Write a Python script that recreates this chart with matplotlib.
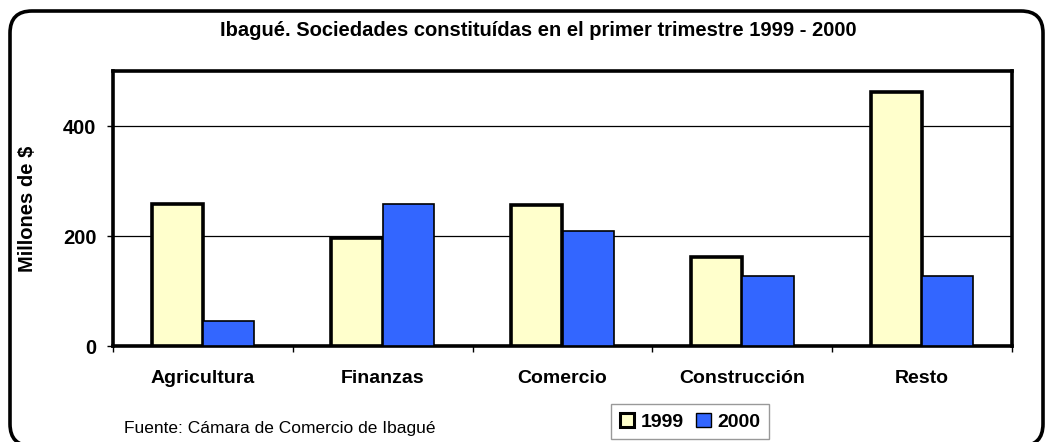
"""Ibagué: sociedades constituidas en el primer trimestre, 1999 vs 2000 (barras agrupadas)."""

import matplotlib

matplotlib.use("Agg")

import matplotlib.pyplot as plt  # noqa: E402
import numpy as np  # noqa: E402
from matplotlib.patches import FancyBboxPatch, Patch  # noqa: E402
from matplotlib.transforms import IdentityTransform  # noqa: E402

plt.rcParams["font.family"] = ["Liberation Sans", "DejaVu Sans"]

CATEGORIES = ["Agricultura", "Finanzas", "Comercio", "Construcción", "Resto"]
VALUES_1999 = [259, 196, 256, 161, 462]
VALUES_2000 = [45, 259, 209, 128, 128]
SERIES_LABELS = ["1999", "2000"]
Y_TICKS = [0, 200, 400]

TITLE = "Ibagué. Sociedades constituídas en el primer trimestre 1999 - 2000"
Y_LABEL = "Millones de $"
SOURCE = "Fuente: Cámara de Comercio de Ibagué"

FILL_1999 = "#FFFFCC"
FILL_2000 = "#3366FF"

W, H = 1045, 442


def main() -> int:
    fig = plt.figure(figsize=(W / 100, H / 100), dpi=100)
    ax = fig.add_axes([113 / W, 1 - 346 / H, (1012 - 113) / W, (346 - 71) / H])

    x = np.arange(len(CATEGORIES))
    bw = 1 / 3.5
    ax.bar(x - bw / 2, VALUES_1999, bw, color=FILL_1999, edgecolor="black",
           linewidth=2.6, zorder=3)
    ax.bar(x + bw / 2, VALUES_2000, bw, color=FILL_2000, edgecolor="black",
           linewidth=1.2, zorder=3)

    ax.set_xlim(-0.5, len(CATEGORIES) - 0.5)
    ax.set_ylim(0, 500)
    ax.set_yticks(Y_TICKS)
    ax.set_yticklabels([str(v) for v in Y_TICKS], fontsize=14.5, fontweight="bold")
    ax.tick_params(axis="y", length=4, width=1, pad=8)
    ax.yaxis.grid(True, color="black", linewidth=0.9, zorder=0)
    ax.set_axisbelow(True)

    ax.set_xticks(x)
    ax.set_xticklabels(CATEGORIES, fontsize=14, fontweight="bold")
    ax.tick_params(axis="x", length=0, pad=17.5)
    ax.set_xticks(np.arange(-0.5, len(CATEGORIES)), minor=True)
    ax.tick_params(axis="x", which="minor", length=4, width=1)

    for sp in ax.spines.values():
        sp.set_linewidth(2.6)
        sp.set_color("black")

    ax.set_ylabel(Y_LABEL, fontsize=14.5, fontweight="bold")
    ax.yaxis.set_label_coords(37 / W, 1 - 209 / H, transform=fig.transFigure)

    fig.text(538 / W, 1 - 30 / H, TITLE, ha="center", va="center",
             fontsize=14.5, fontweight="bold")
    fig.text(124 / W, 1 - 428 / H, SOURCE, ha="left", va="center", fontsize=12.5)

    handles = [
        Patch(facecolor=FILL_1999, edgecolor="black", linewidth=2.2, label=SERIES_LABELS[0]),
        Patch(facecolor=FILL_2000, edgecolor="black", linewidth=1.0, label=SERIES_LABELS[1]),
    ]
    leg = fig.legend(
        handles=handles,
        loc="upper left",
        bbox_to_anchor=(611 / W, 1 - 404 / H),
        ncol=2,
        frameon=True,
        fancybox=False,
        edgecolor="#808080",
        handlelength=0.75,
        handleheight=0.75,
        handletextpad=0.35,
        columnspacing=0.6,
        borderpad=0.45,
        borderaxespad=0,
        prop={"weight": "bold", "size": 14},
    )
    leg.get_frame().set_linewidth(1.0)

    border = FancyBboxPatch(
        (10, -4), 1033, H - 11 + 4,
        boxstyle="round,pad=0,rounding_size=22",
        transform=IdentityTransform(),
        facecolor="none",
        edgecolor="black",
        linewidth=2.6,
    )
    fig.add_artist(border)

    fig.savefig("out.png", dpi=100)
    plt.close(fig)
    return 0


if __name__ == "__main__":
    raise SystemExit(main())
